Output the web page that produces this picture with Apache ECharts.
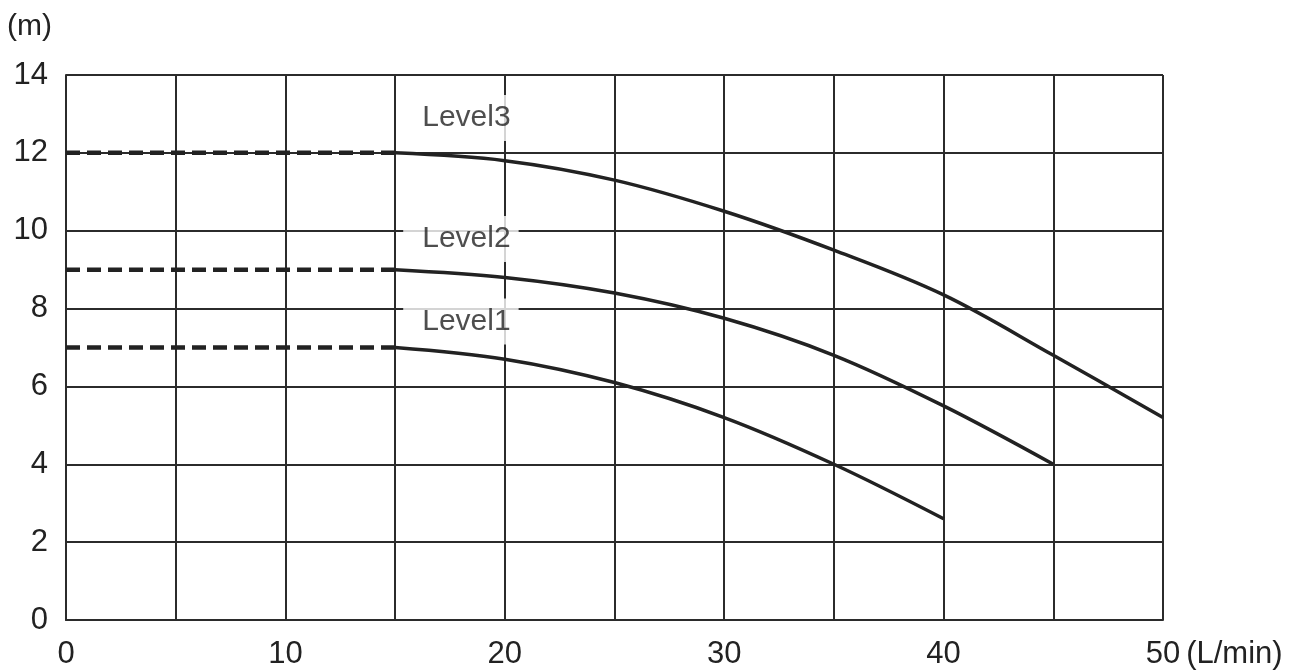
<!DOCTYPE html>
<html>
<head>
<meta charset="utf-8">
<script src="https://cdn.jsdelivr.net/npm/echarts@6/dist/echarts.min.js"></script>
<style>html,body{margin:0;padding:0;background:#fff;}#c{width:1303px;height:672px;}</style>
</head>
<body>
<div id="c"></div>
<script>
const flow = [15, 20, 25, 30, 35, 40, 45, 50];
const level3 = [12, 11.8, 11.3, 10.5, 9.5, 8.35, 6.8, 5.2];
const level2 = [9, 8.8, 8.4, 7.75, 6.8, 5.5, 4.0];
const level1 = [7, 6.7, 6.1, 5.2, 4.0, 2.6];
const levelNames = ['Level1', 'Level2', 'Level3'];
const xTicks = [0, 10, 20, 30, 40, 50];

const chart = echarts.init(document.getElementById('c'));
const font = 'Liberation Sans, Arial, sans-serif';
const ink = '#222';
const gridInk = '#2b2b2b';

function pts(vals) { return vals.map((v, i) => [flow[i], v]); }

const curves = [level1, level2, level3];
const series = [];
curves.forEach((vals) => {
  series.push({
    type: 'line', data: [[0, vals[0]], [flow[0], vals[0]]], symbol: 'none',
    lineStyle: { color: ink, width: 4.5, type: [14, 7] }, z: 3, silent: true
  });
  series.push({
    type: 'line', data: pts(vals), smooth: 0.35, symbol: 'none',
    lineStyle: { color: ink, width: 3.5 }, z: 3, silent: true
  });
});
const labelPos = [[18, 7.668], [18, 9.787], [18, 12.895]];
series.push({
  type: 'scatter', symbolSize: 0, z: 5, silent: true,
  data: labelPos.map((p, i) => ({ value: p, name: levelNames[i] })),
  label: {
    show: true, position: 'inside', formatter: p => p.name,
    fontFamily: font, fontSize: 30, color: '#222', lineHeight: 30,
    backgroundColor: '#fff', padding: [10, 8, 6, 19]
  }
});

chart.setOption({
  animation: false,
  backgroundColor: '#fff',
  grid: { left: 66, right: 140, top: 75, bottom: 52, containLabel: false, outerBoundsMode: 'none' },
  xAxis: {
    type: 'value', min: 0, max: 50, interval: 5,
    axisLine: { show: true, lineStyle: { color: gridInk, width: 2 } },
    axisTick: { show: false },
    splitLine: { show: true, lineStyle: { color: gridInk, width: 2 } },
    axisLabel: {
      margin: 19, fontFamily: font, fontSize: 31, color: ink,
      formatter: v => xTicks.indexOf(v) >= 0 ? String(v) : ''
    },
    name: '(L/min)', nameLocation: 'end', nameGap: -5,
    nameTextStyle: { fontFamily: font, fontSize: 31, color: ink, align: 'left', verticalAlign: 'top', lineHeight: 31, padding: [19, 0, 0, 0] }
  },
  yAxis: {
    type: 'value', min: 0, max: 14, interval: 2,
    axisLine: { show: true, lineStyle: { color: gridInk, width: 2 } },
    axisTick: { show: false },
    splitLine: { show: true, lineStyle: { color: gridInk, width: 2 } },
    axisLabel: { margin: 18, fontFamily: font, fontSize: 31, color: ink },
    name: '(m)', nameLocation: 'end', nameGap: 48,
    nameTextStyle: { fontFamily: font, fontSize: 30, color: ink, align: 'right', verticalAlign: 'middle', padding: [0, 14, 0, 0] }
  },
  series: series
});
</script>
</body>
</html>
